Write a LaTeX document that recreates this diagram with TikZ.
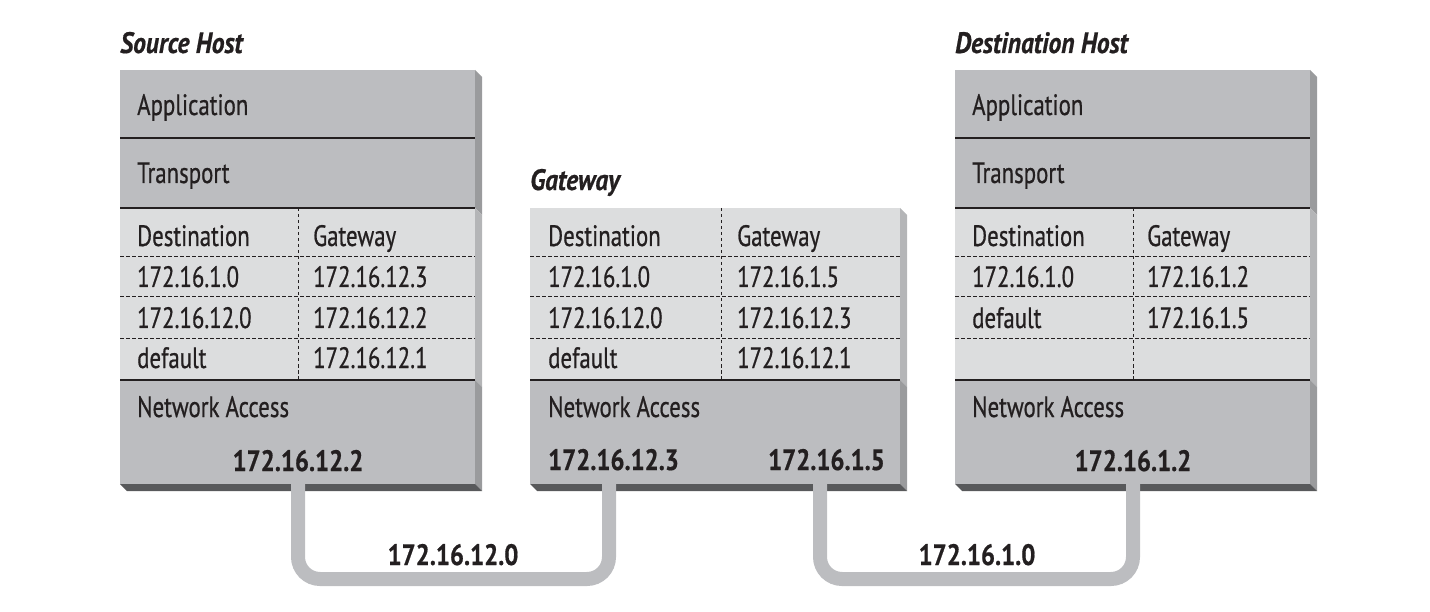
\documentclass[tikz,border=0pt]{standalone}
\usepackage{fontspec}
\setmainfont{PT Sans}[FakeStretch=0.775, FakeBold=0.6,
  BoldFeatures={FakeStretch=0.84},
  BoldItalicFeatures={FakeStretch=0.865}]
\definecolor{band}{HTML}{BCBDC0}
\definecolor{table}{HTML}{DCDDDE}
\definecolor{bandside}{HTML}{9A9B9D}
\definecolor{tableside}{HTML}{B4B5B7}
\definecolor{bottomside}{HTML}{58595B}
\definecolor{ink}{HTML}{231F20}
\tikzset{
  txt/.style = {anchor=base west, inner sep=0pt, text=ink, font=\fontsize{29.5}{33}\selectfont},
  title/.style = {txt, font=\fontsize{29.5}{33}\selectfont\bfseries\itshape},
  ip/.style = {txt, anchor=base, font=\fontsize{29.5}{33}\selectfont\bfseries},
  rule/.style = {draw=ink, line width=1.6pt},
  dashrule/.style = {draw=ink, line width=1pt, dash pattern=on 3.5pt off 2.5pt},
  link/.style = {draw=band, line width=14pt, rounded corners=22pt}
}

\begin{document}
\begin{tikzpicture}[x=1pt,y=-1pt]
  \useasboundingbox (0,0) rectangle (1430,612);
  % source host
  \fill[bandside] (475,70) -- (482,77) -- (482,215) -- (475,208) -- cycle;
  \fill[tableside] (475,208) -- (482,215) -- (482,387) -- (475,380) -- cycle;
  \fill[bandside] (475,380) -- (482,387) -- (482,491) -- (475,484) -- cycle;
  \fill[bottomside] (120,484) -- (127,491) -- (482,491) -- (475,484) -- cycle;
  \fill[band] (120,70) rectangle (475,208);
  \fill[table] (120,208) rectangle (475,380);
  \fill[band] (120,380) rectangle (475,484);
  \foreach \y in {138,208,380} \draw[rule] (120,\y) -- (475,\y);
  \foreach \y in {257,297,339} \draw[dashrule] (120,\y) -- (475,\y);
  \draw[dashrule] (298,208) -- (298,380);
  \node[title] (src-title) at (120,53) {Source Host};
  \node[txt] (src-app) at (137,115) {Application};
  \node[txt] (src-trans) at (137,183) {Transport};
  \node[txt] (src-dest) at (137,246) {Destination};
  \node[txt] (src-gw) at (313,246) {Gateway};
  \node[txt] (src-d1) at (137,287) {172.16.1.0};
  \node[txt] (src-g1) at (313,287) {172.16.12.3};
  \node[txt] (src-d2) at (137,328) {172.16.12.0};
  \node[txt] (src-g2) at (313,328) {172.16.12.2};
  \node[txt] (src-d3) at (137,368) {default};
  \node[txt] (src-g3) at (313,368) {172.16.12.1};
  \node[txt] (src-net) at (137,417) {Network Access};
  \node[ip] (src-ip) at (298,471) {172.16.12.2};
  \coordinate (src-port) at (298,484);

  % gateway
  \fill[tableside] (900,208) -- (907,215) -- (907,387) -- (900,380) -- cycle;
  \fill[bandside] (900,380) -- (907,387) -- (907,491) -- (900,484) -- cycle;
  \fill[bottomside] (530,484) -- (537,491) -- (907,491) -- (900,484) -- cycle;
  \fill[table] (530,208) rectangle (900,380);
  \fill[band] (530,380) rectangle (900,484);
  \draw[rule] (530,380) -- (900,380);
  \foreach \y in {257,297,339} \draw[dashrule] (530,\y) -- (900,\y);
  \draw[dashrule] (721,208) -- (721,380);
  \node[title] (gw-title) at (530,190) {Gateway};
  \node[txt] (gw-dest) at (548,246) {Destination};
  \node[txt] (gw-gw) at (737,246) {Gateway};
  \node[txt] (gw-d1) at (548,287) {172.16.1.0};
  \node[txt] (gw-g1) at (737,287) {172.16.1.5};
  \node[txt] (gw-d2) at (548,328) {172.16.12.0};
  \node[txt] (gw-g2) at (737,328) {172.16.12.3};
  \node[txt] (gw-d3) at (548,368) {default};
  \node[txt] (gw-g3) at (737,368) {172.16.12.1};
  \node[txt] (gw-net) at (548,417) {Network Access};
  \node[ip, anchor=base west] (gw-ip-a) at (548,470) {172.16.12.3};
  \node[ip, anchor=base east] (gw-ip-b) at (885,470) {172.16.1.5};
  \coordinate (gw-port-a) at (609,484);
  \coordinate (gw-port-b) at (820,484);

  % destination host
  \fill[bandside] (1310,70) -- (1317,77) -- (1317,215) -- (1310,208) -- cycle;
  \fill[tableside] (1310,208) -- (1317,215) -- (1317,387) -- (1310,380) -- cycle;
  \fill[bandside] (1310,380) -- (1317,387) -- (1317,491) -- (1310,484) -- cycle;
  \fill[bottomside] (955,484) -- (962,491) -- (1317,491) -- (1310,484) -- cycle;
  \fill[band] (955,70) rectangle (1310,208);
  \fill[table] (955,208) rectangle (1310,380);
  \fill[band] (955,380) rectangle (1310,484);
  \foreach \y in {138,208,380} \draw[rule] (955,\y) -- (1310,\y);
  \foreach \y in {257,297,339} \draw[dashrule] (955,\y) -- (1310,\y);
  \draw[dashrule] (1133,208) -- (1133,380);
  \node[title] (dst-title) at (955,53) {Destination Host};
  \node[txt] (dst-app) at (972,115) {Application};
  \node[txt] (dst-trans) at (972,183) {Transport};
  \node[txt] (dst-dest) at (972,246) {Destination};
  \node[txt] (dst-gw) at (1147,246) {Gateway};
  \node[txt] (dst-d1) at (972,287) {172.16.1.0};
  \node[txt] (dst-g1) at (1147,287) {172.16.1.2};
  \node[txt] (dst-d2) at (972,328) {default};
  \node[txt] (dst-g2) at (1147,328) {172.16.1.5};
  \node[txt] (dst-net) at (972,417) {Network Access};
  \node[ip] (dst-ip) at (1133,471) {172.16.1.2};
  \coordinate (dst-port) at (1133,484);

  % networks
  \draw[link] (src-port) -- ++(0,95) -| (gw-port-a);
  \draw[link] (gw-port-b) -- ++(0,95) -| (dst-port);
  \node[ip] (net-a) at (453,565) {172.16.12.0};
  \node[ip] (net-b) at (977,565) {172.16.1.0};
\end{tikzpicture}
\end{document}
